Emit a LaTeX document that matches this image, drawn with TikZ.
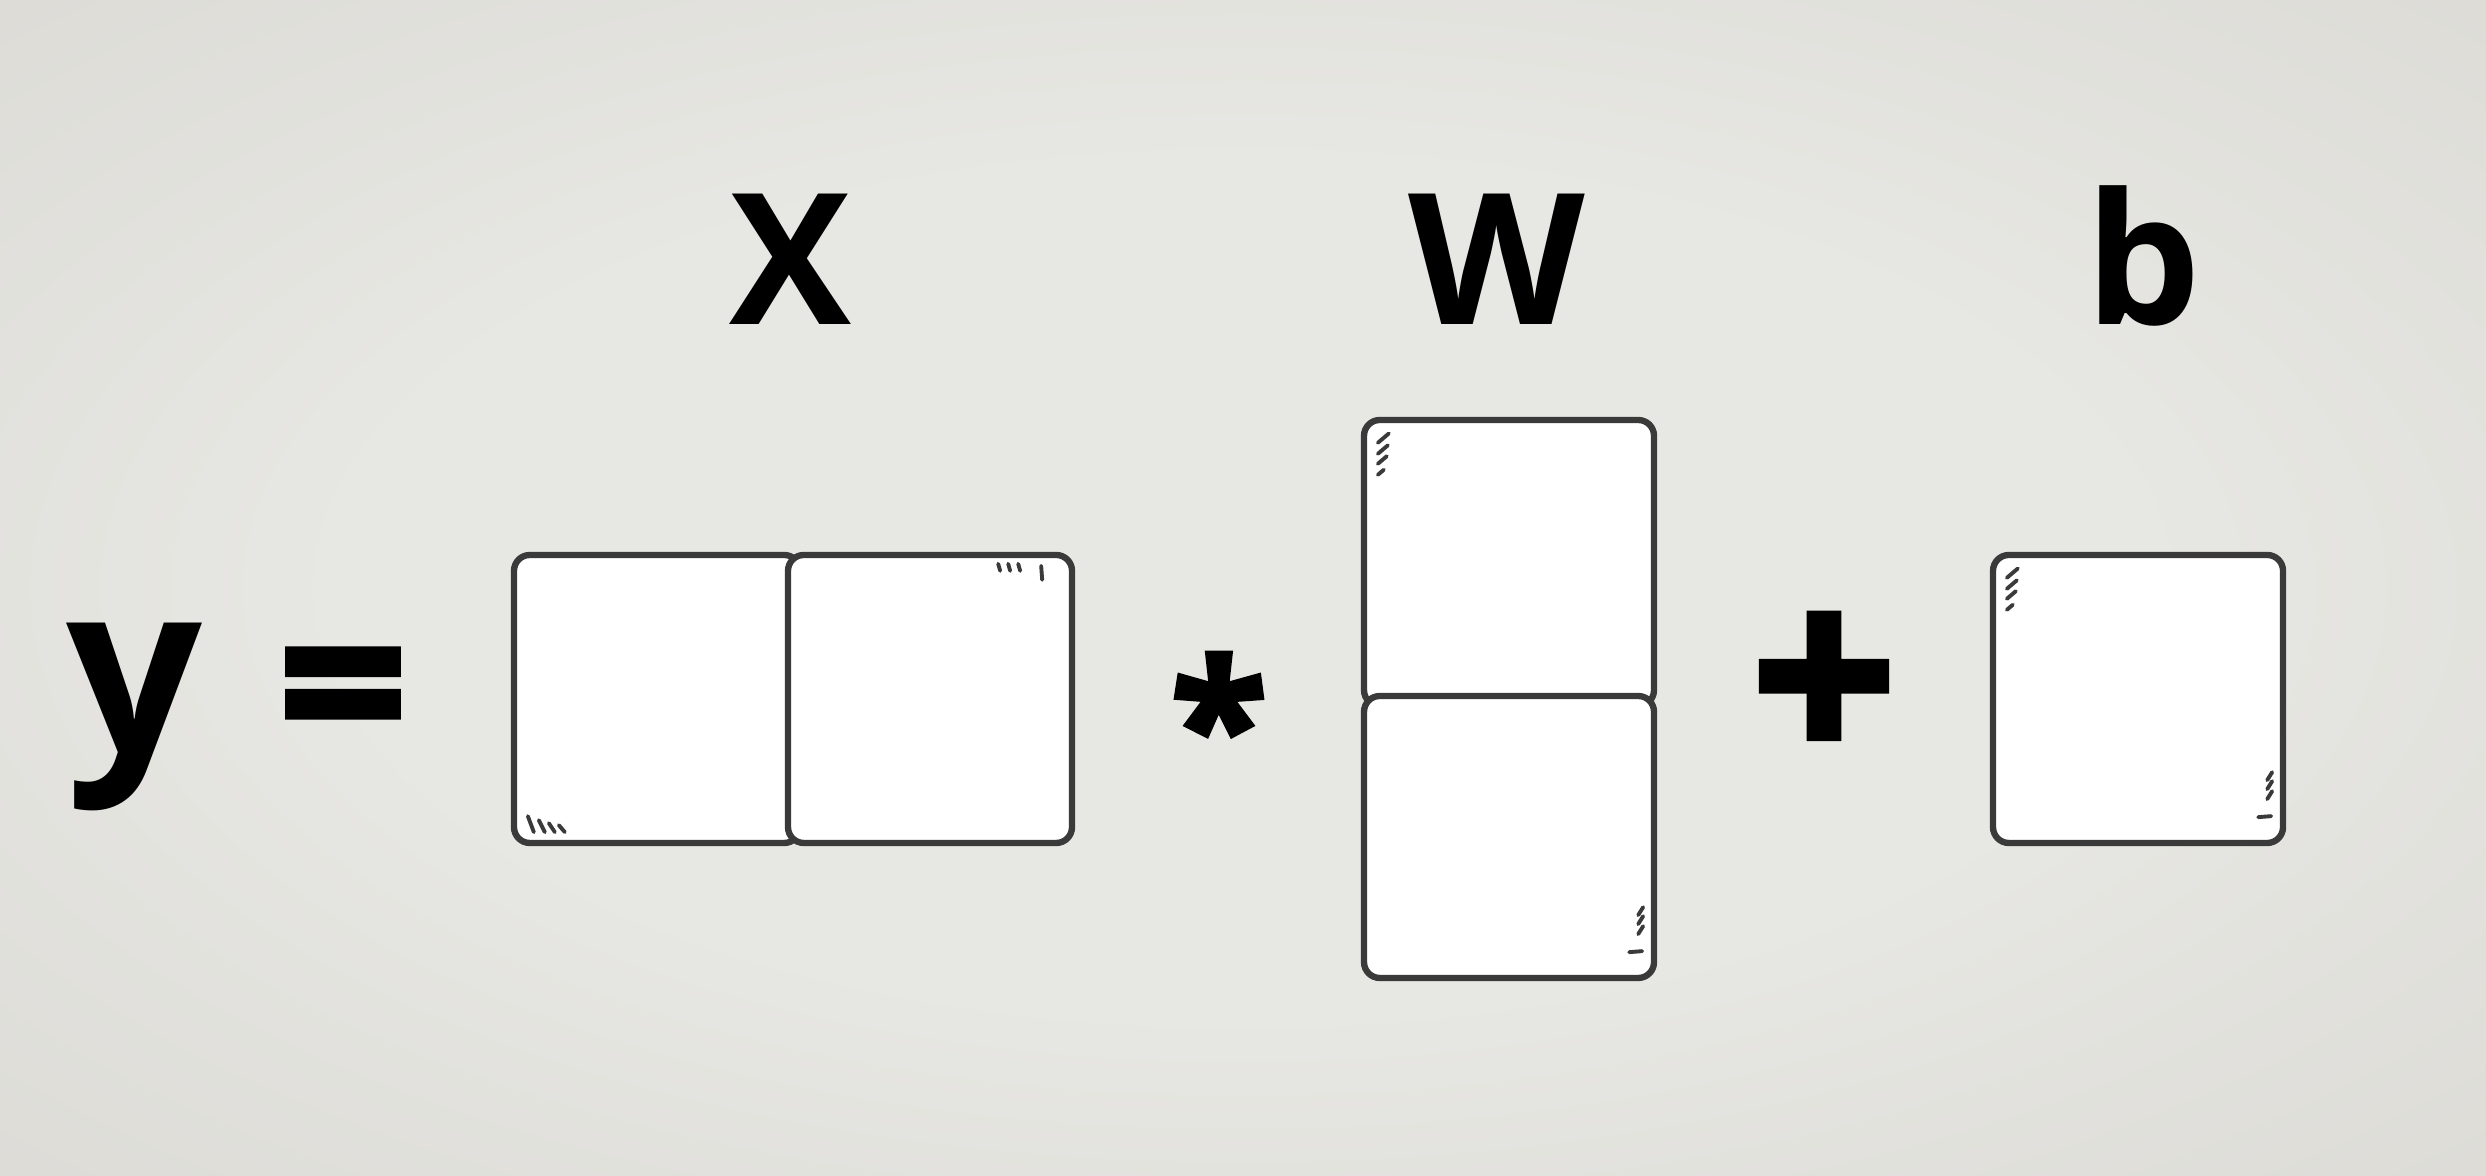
\documentclass[tikz,border=0pt]{standalone}
\usepackage{fontspec}
\setmainfont{Open Sans}
\newfontfamily\opfont[BoldFeatures={FakeBold=3}]{Open Sans}
\usetikzlibrary{calc}
\definecolor{bglight}{HTML}{E7E7E3}
\definecolor{bgdark}{HTML}{D1CFC9}
\definecolor{cellgray}{HTML}{3A3A3A}
\pgfdeclareradialshading{bgglow}{\pgfpoint{0bp}{0bp}}{color(0bp)=(bglight);
  color(18bp)=(bglight); color(55bp)=(bgdark); color(71bp)=(bgdark)}
\begin{document}
\begin{tikzpicture}[
    cell/.style={draw=cellgray, line width=1.8pt, fill=white, rounded corners=4.5pt,
                 inner sep=0pt, minimum width=2.85cm, minimum height=2.85cm},
    var/.style={font=\fontsize{52}{60}\selectfont\bfseries, anchor=base, inner sep=0pt},
    op/.style={font=\fontsize{#1}{#1}\selectfont\opfont\bfseries, inner sep=0pt},
    gloss/.style={draw=cellgray, line width=1.1pt, line cap=round}
  ]
    % backdrop
    \shade[shading=bgglow] (0,0) rectangle (24.86,11.76);
    \useasboundingbox (0,0) rectangle (24.86,11.76);

    \node[var, font=\fontsize{68}{76}\selectfont\bfseries] (y) at (1.345,4.22) {y};
    \node[op=64] (eq) at (3.43,4.70) {=};
    \node[cell, minimum width=2.86cm, minimum height=2.88cm] (X1) at (6.57,4.77) {};
    \node[cell, minimum width=2.84cm, minimum height=2.88cm] (X2) at (9.30,4.77) {};
    \node[op=50] (times) at (12.19,4.56) {*};
    \node[cell, minimum width=2.90cm, minimum height=2.86cm] (W1) at (15.09,6.13) {};
    \node[cell, minimum width=2.90cm, minimum height=2.82cm] (W2) at (15.09,3.39) {};
    \node[op=72] (plus) at (18.24,4.86) {+};
    \node[cell, minimum width=2.90cm, minimum height=2.88cm] (B) at (21.38,4.77) {};

    \node[var] (lx) at (7.90,8.51) {X};
    \node[var] (lw) at (14.97,8.51) {W};
    \node[var] (lb) at (21.43,8.51) {b};

    % glossy corner strokes
    \foreach \dx/\l in {0.17/0.16, 0.28/0.12, 0.38/0.09, 0.48/0.07}
      \draw[gloss] ($(X1.south west)+(\dx,0.14+\l)$) -- ++(0.06,-\l);
    \foreach \dx in {-0.77,-0.67,-0.57}
      \draw[gloss] ($(X2.north east)+(\dx,-0.12)$) -- ++(0.02,-0.07);
    \draw[gloss] ($(X2.north east)+(-0.34,-0.14)$) -- ++(0.01,-0.14);
    \foreach \c in {W1,B}
      \foreach \y/\l in {0.26/0.11, 0.37/0.10, 0.47/0.09, 0.58/0.06}
        \draw[gloss] ($(\c.north west)+(0.17,-\y)$) -- ++(\l,0.85*\l);
    \foreach \c in {W2,B} {
      \foreach \h in {0.47,0.57,0.66}
        \draw[gloss] ($(\c.south east)+(-0.19,\h)$) -- ++(0.05,0.08);
      \draw[gloss] ($(\c.south east)+(-0.28,0.29)$) -- ++(0.13,0.01);
    }
\end{tikzpicture}
\end{document}
